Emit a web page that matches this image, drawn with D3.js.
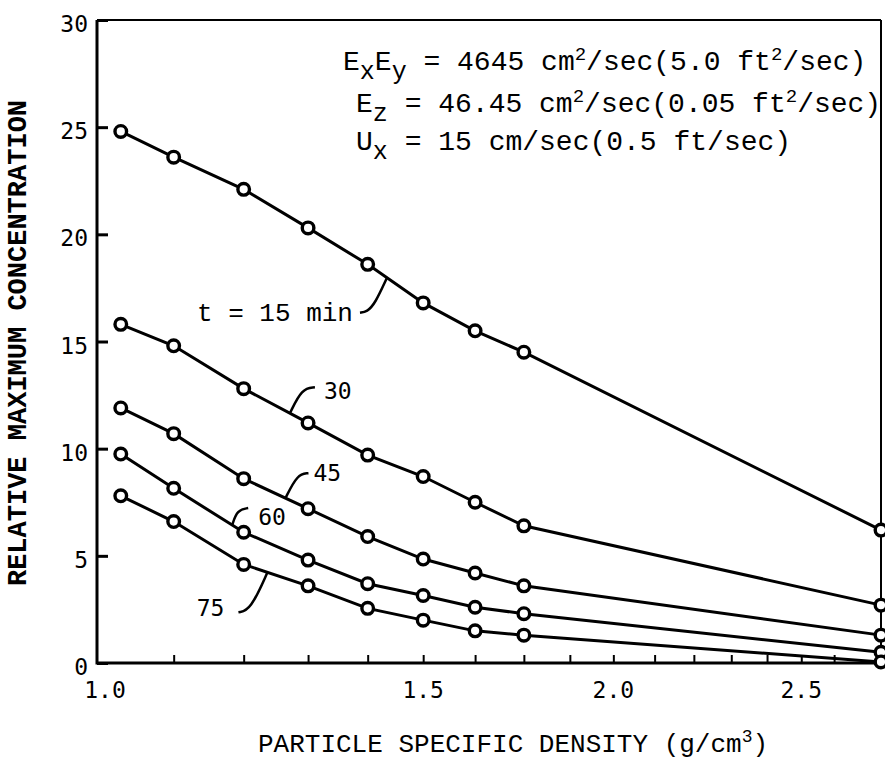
<!DOCTYPE html>
<html><head><meta charset="utf-8">
<script src="https://cdn.jsdelivr.net/npm/d3@7/dist/d3.min.js"></script>
<style>body{margin:0;background:#fff}svg{display:block}</style>
</head><body>
<svg id="c" width="885" height="767"></svg>
<script>
// ---- data ----
const density = [1.03, 1.1, 1.2, 1.3, 1.4, 1.5, 1.6, 1.7, 2.65];
const t15 = [24.8, 23.6, 22.1, 20.3, 18.6, 16.8, 15.5, 14.5, 6.2];
const t30 = [15.8, 14.8, 12.8, 11.2, 9.7, 8.7, 7.5, 6.4, 2.7];
const t45 = [11.9, 10.7, 8.6, 7.2, 5.9, 4.85, 4.2, 3.6, 1.3];
const t60 = [9.75, 8.15, 6.1, 4.8, 3.7, 3.15, 2.6, 2.3, 0.5];
const t75 = [7.8, 6.6, 4.6, 3.6, 2.55, 2.0, 1.5, 1.3, 0.05];
const seriesNames = ["t = 15 min", "30", "45", "60", "75"];
const labelAnchorDensity = [1.434, 1.271, 1.264, 1.183, 1.236];
const yTicks = [0, 5, 10, 15, 20, 25, 30];
const xMinorTicks = [1.1, 1.2, 1.3, 1.4, 1.5, 1.6, 1.7, 1.8, 1.9, 2.0, 2.1, 2.2, 2.3, 2.4, 2.5];
const xTickLabels = ["1.0", "1.5", "2.0", "2.5"];
const xTickLabelAt = [1.01, 1.5, 1.9, 2.4];

const series = [t15, t30, t45, t60, t75];

// ---- layout ----
const svg = d3.select("#c");
const x = d3.scaleLog().domain([1, 2.65]).range([97, 881]);
const y = d3.scaleLinear().domain([0, 30]).range([663, 20]);
const numFont = "'DejaVu Sans Mono', monospace";
const txtFont = "'Liberation Mono', 'Courier New', monospace";

// frame
svg.append("line").attr("x1", x(1)).attr("x2", x(2.65)).attr("y1", y(30)).attr("y2", y(30))
  .attr("stroke", "#000").attr("stroke-width", 2);
svg.append("line").attr("x1", x(2.65)).attr("x2", x(2.65)).attr("y1", y(30)).attr("y2", y(0))
  .attr("stroke", "#000").attr("stroke-width", 2);

// axes
const gx = svg.append("g").attr("transform", `translate(0,${y(0)})`)
  .call(d3.axisBottom(x).tickValues(xMinorTicks).tickSize(-8).tickFormat(""));
gx.select(".domain").remove();
gx.selectAll(".tick line").attr("stroke", "#000").attr("stroke-width", 2);
svg.append("line").attr("x1", x(1)).attr("x2", x(2.65)).attr("y1", y(0)).attr("y2", y(0))
  .attr("stroke", "#000").attr("stroke-width", 3);

const gy = svg.append("g").attr("transform", `translate(${x(1)},0)`)
  .call(d3.axisLeft(y).tickValues(yTicks).tickSize(-11).tickPadding(9).tickFormat(d3.format("d")));
gy.select(".domain").remove();
gy.selectAll(".tick line").attr("stroke", "#000").attr("stroke-width", 3);
gy.selectAll(".tick text").attr("font-family", numFont).attr("font-size", 23).attr("fill", "#000")
  .attr("dy", "0.5em");
svg.append("line").attr("x1", x(1)).attr("x2", x(1)).attr("y1", y(30)).attr("y2", y(0) + 1.5)
  .attr("stroke", "#000").attr("stroke-width", 3);

svg.append("g").selectAll("text").data(xTickLabels).join("text")
  .attr("x", (d, i) => x(xTickLabelAt[i])).attr("y", y(0) + 35)
  .attr("text-anchor", "middle").attr("font-family", numFont).attr("font-size", 23)
  .text(d => d);

// axis titles
const xt = svg.append("text").attr("x", 258).attr("y", 752)
  .attr("font-family", txtFont).attr("font-size", 26);
xt.append("tspan").text("PARTICLE SPECIFIC DENSITY (g/cm");
xt.append("tspan").attr("dy", -10).attr("font-size", 18).text("3");
xt.append("tspan").attr("dy", 10).text(")");

svg.append("text").attr("transform", "translate(26,343) rotate(-90)")
  .attr("text-anchor", "middle").attr("font-family", txtFont).attr("font-size", 27)
  .attr("font-weight", "bold").text("RELATIVE MAXIMUM CONCENTRATION");

// series
const line = d3.line().x((d, i) => x(density[i])).y(d => y(d));
const gs = svg.append("g");
series.forEach(s => {
  gs.append("path").attr("d", line(s)).attr("fill", "none").attr("stroke", "#000").attr("stroke-width", 3);
  gs.selectAll(null).data(s).join("circle")
    .attr("cx", (d, i) => x(density[i])).attr("cy", d => y(d)).attr("r", 5.8)
    .attr("fill", "#fff").attr("stroke", "#000").attr("stroke-width", 3.4);
});

// series labels with leaders
function yAt(s, rho) {
  const px = x(rho);
  for (let i = 0; i < density.length - 1; i++) {
    const x0 = x(density[i]), x1 = x(density[i + 1]);
    if (px >= x0 && px <= x1) {
      const t = (px - x0) / (x1 - x0);
      return y(s[i]) + t * (y(s[i + 1]) - y(s[i]));
    }
  }
  return y(s[0]);
}
// leader shape offsets (pixels from anchor) and text placement
const leaderLayout = [
  {path: [[-12, 26], [-20, 34], [-27, 35]], tx: -34, ty: 34, anchor: "end", font: txtFont, size: 26},
  {path: [[12, -25], [25, -26]], tx: 34, ty: -22, anchor: "start", font: numFont, size: 23},
  {path: [[12, -24], [23, -25]], tx: 28, ty: -25, anchor: "start", font: numFont, size: 23},
  {path: [[5, -15], [16, -17]], tx: 26, ty: -8, anchor: "start", font: numFont, size: 23},
  {path: [[-17, 38], [-29, 40]], tx: -43, ty: 36, anchor: "end", font: numFont, size: 23}
];
const gl = svg.append("g");
seriesNames.forEach((name, k) => {
  const ax = x(labelAnchorDensity[k]);
  const ay = yAt(series[k], labelAnchorDensity[k]);
  const L = leaderLayout[k];
  const pts = [[ax, ay]].concat(L.path.map(p => [ax + p[0], ay + p[1]]));
  gl.append("path").attr("d", d3.line().curve(d3.curveBasis)(pts))
    .attr("fill", "none").attr("stroke", "#000").attr("stroke-width", 2.5);
  gl.append("text").attr("x", ax + L.tx).attr("y", ay + L.ty).attr("dy", "0.35em")
    .attr("text-anchor", L.anchor).attr("font-family", L.font).attr("font-size", L.size).text(name);
});

// parameter annotation
const ann = svg.append("g").attr("font-family", txtFont).attr("font-size", 28);
function annLine(xp, yp, parts) {
  const t = ann.append("text").attr("x", xp).attr("y", yp);
  parts.forEach(p => {
    const ts = t.append("tspan").text(p[0]);
    if (p[1] === "sub") ts.attr("dy", 9).attr("font-size", 25);
    if (p[1] === "subEnd") ts.attr("dy", -9);
    if (p[1] === "sup") ts.attr("dy", -10).attr("font-size", 19);
    if (p[1] === "supEnd") ts.attr("dy", 10);
  });
  return t;
}
annLine(343, 70, [["E"], ["x", "sub"], ["E", "subEnd"], ["y", "sub"], [" = 4645 cm", "subEnd"], ["2", "sup"], ["/sec(5.0 ft", "supEnd"], ["2", "sup"], ["/sec)", "supEnd"]]);
annLine(356, 112, [["E"], ["z", "sub"], [" = 46.45 cm", "subEnd"], ["2", "sup"], ["/sec(0.05 ft", "supEnd"], ["2", "sup"], ["/sec)", "supEnd"]]);
annLine(356, 150, [["U"], ["x", "sub"], [" = 15 cm/sec(0.5 ft/sec)", "subEnd"]]);
</script>
</body></html>
